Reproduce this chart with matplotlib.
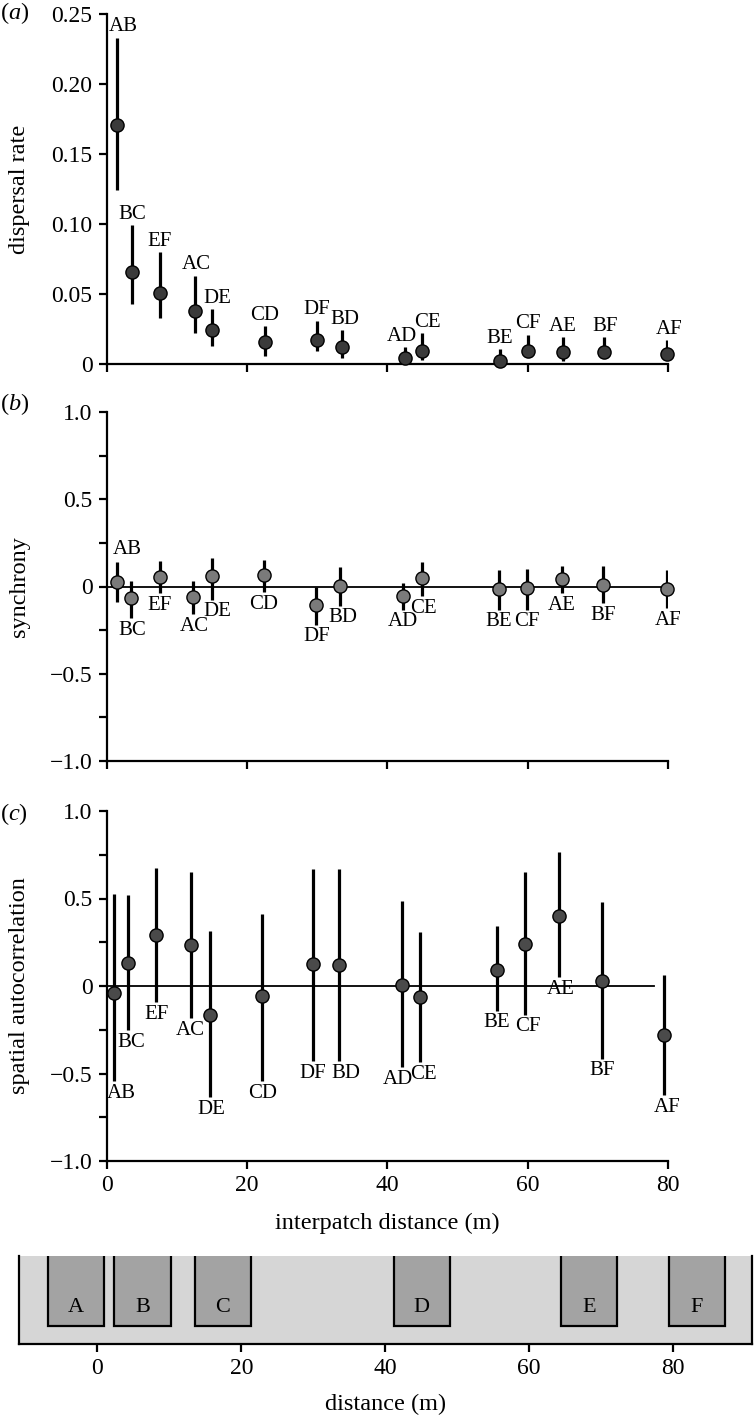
import matplotlib
matplotlib.use("Agg")
import matplotlib.pyplot as plt
import matplotlib.transforms as mtransforms
from matplotlib.patches import Rectangle
from matplotlib.ticker import FixedLocator

plt.rcParams['font.family'] = ['Liberation Serif', 'DejaVu Serif']
plt.rcParams['mathtext.fontset'] = 'custom'
plt.rcParams['mathtext.rm'] = 'Liberation Serif'
plt.rcParams['mathtext.it'] = 'Liberation Serif:italic'
plt.rcParams['axes.unicode_minus'] = True

# ---------------- data ----------------
pairs = ["AB", "BC", "EF", "AC", "DE", "CD", "DF", "BD",
         "AD", "CE", "BE", "CF", "AE", "BF", "AF"]

# panel (a): dispersal rate
dist_a = [1.45, 3.6, 7.6, 12.6, 15.0, 22.6, 30.0, 33.5,
          42.5, 44.9, 56.0, 60.0, 65.0, 70.9, 79.9]
disp = [0.171, 0.066, 0.051, 0.038, 0.024, 0.016, 0.017, 0.012,
        0.004, 0.0095, 0.0025, 0.0093, 0.0083, 0.0083, 0.0069]
disp_lo = [0.124, 0.043, 0.033, 0.022, 0.013, 0.006, 0.009, 0.004,
           0.0, 0.003, 0.0, 0.005, 0.002, 0.005, 0.003]
disp_hi = [0.233, 0.099, 0.080, 0.063, 0.039, 0.027, 0.031, 0.024,
           0.012, 0.022, 0.0105, 0.021, 0.019, 0.019, 0.017]

# panel (b): synchrony
dist_b = [1.45, 3.45, 7.6, 12.35, 15.0, 22.4, 29.9, 33.3,
          42.3, 44.9, 55.9, 59.9, 64.9, 70.8, 79.8]
sync = [0.025, -0.065, 0.053, -0.059, 0.059, 0.065, -0.107, 0.002,
        -0.052, 0.050, -0.017, -0.011, 0.044, 0.011, -0.017]
sync_lo = [-0.090, -0.180, -0.036, -0.160, -0.075, -0.032, -0.218, -0.109,
           -0.132, -0.056, -0.132, -0.132, -0.036, -0.094, -0.122]
sync_hi = [0.139, 0.034, 0.145, 0.034, 0.164, 0.149, 0.0, 0.113,
           0.021, 0.139, 0.092, 0.103, 0.120, 0.120, 0.092]

# panel (c): spatial autocorrelation
dist_c = [1.1, 3.1, 7.1, 12.0, 14.7, 22.2, 29.4, 33.1,
          42.1, 44.6, 55.6, 59.6, 64.5, 70.6, 79.5]
sac = [-0.040, 0.131, 0.290, 0.232, -0.164, -0.055, 0.126, 0.118,
       0.008, -0.065, 0.093, 0.240, 0.402, 0.027, -0.278]
sac_lo = [-0.545, -0.250, -0.093, -0.183, -0.636, -0.545, -0.430, -0.430,
          -0.465, -0.436, -0.141, -0.164, 0.050, -0.415, -0.625]
sac_hi = [0.526, 0.518, 0.674, 0.650, 0.312, 0.411, 0.669, 0.669,
          0.484, 0.307, 0.341, 0.650, 0.764, 0.478, 0.065]

# patch map
patch_names = ["A", "B", "C", "D", "E", "F"]
patch_left = [-6.8, 2.3, 13.5, 41.2, 64.5, 79.4]
patch_right = [0.9, 10.2, 21.3, 49.0, 72.2, 87.2]

# ---------------- layout / style ----------------
W, H = 754, 1417
fig = plt.figure(figsize=(W / 100, H / 100), dpi=100)

def fx(px):
    return px / W

def fy(py):
    return 1 - py / H

left_px, right_px = 106.5, 668
ax_a = fig.add_axes([fx(left_px), fy(364), fx(right_px - left_px), (364 - 14) / H])
ax_b = fig.add_axes([fx(left_px), fy(761), fx(right_px - left_px), (761 - 412) / H])
ax_c = fig.add_axes([fx(left_px), fy(1161), fx(right_px - left_px), (1161 - 811) / H])
ax_m = fig.add_axes([fx(19), fy(1344), fx(752 - 19), (1344 - 1256) / H])

TICK_FS = 17
LAB_FS = 17.5
PT_FS = 15
SPINE_W = 1.6

def style_axis(ax):
    for s in ["top", "right"]:
        ax.spines[s].set_visible(False)
    for s in ["left", "bottom"]:
        ax.spines[s].set_linewidth(SPINE_W)
    ax.tick_params(which="both", direction="out", length=6, width=SPINE_W,
                   labelsize=TICK_FS, pad=4)
    ax.set_xlim(0, 80)
    ax.xaxis.set_major_locator(FixedLocator([0, 20, 40, 60, 80]))

def draw_points(ax, x, y, lo, hi, face):
    ax.vlines(x, lo, hi, color="black", lw=2.3, zorder=3)
    ax.plot(x, y, "o", ms=9.5, mfc=face, mec="black", mew=1.0, zorder=4,
            clip_on=False)

def draw_labels(ax, x, lo, hi, where, dx, gap=2):
    for i, name in enumerate(pairs):
        if where[i] == "a":
            ax.annotate(name, (x[i], hi[i]), xytext=(dx[i], gap),
                        textcoords="offset points", ha="center", va="bottom",
                        fontsize=PT_FS, annotation_clip=False)
        else:
            ax.annotate(name, (x[i], lo[i]), xytext=(dx[i], -gap),
                        textcoords="offset points", ha="center", va="top",
                        fontsize=PT_FS, annotation_clip=False)

def fmt_ticks(vals):
    out = []
    for v in vals:
        if v == 0:
            out.append("0")
        else:
            out.append(("\u2212" if v < 0 else "") + f"{abs(v):.1f}")
    return out

# ---- panel (a)
style_axis(ax_a)
ax_a.set_ylim(0, 0.25)
ya = [0, 0.05, 0.10, 0.15, 0.20, 0.25]
ax_a.set_yticks(ya)
ax_a.set_yticklabels(["0", "0.05", "0.10", "0.15", "0.20", "0.25"])
ax_a.set_xticklabels([])
draw_points(ax_a, dist_a, disp, disp_lo, disp_hi, "#3a3a3a")
dx_a = [5, 0, 0, 1, 4, 0, 0, 2, -2, 4, 0, 0, 0, 1, 1]
draw_labels(ax_a, dist_a, disp_lo, disp_hi, ["a"] * 15, dx_a, gap=1)
ax_a.set_ylabel("dispersal rate", fontsize=LAB_FS)

# ---- panel (b)
style_axis(ax_b)
ax_b.set_ylim(-1, 1)
yb = [-1.0, -0.5, 0, 0.5, 1.0]
ax_b.set_yticks(yb)
ax_b.set_yticklabels(fmt_ticks(yb))
ax_b.yaxis.set_minor_locator(FixedLocator([-0.75, -0.25, 0.25, 0.75]))
ax_b.set_xticklabels([])
ax_b.plot([0, 80.5], [0, 0], color="black", lw=1.3, zorder=2, clip_on=False)
draw_points(ax_b, dist_b, sync, sync_lo, sync_hi, "#7a7a7a")
where_b = ["a"] + ["b"] * 14
dx_b = [8, 1, 0, 1, 4, 0, 0, 2, 0, 1, 0, 0, 0, 0, 1]
draw_labels(ax_b, dist_b, sync_lo, sync_hi, where_b, dx_b, gap=2)
ax_b.set_ylabel("synchrony", fontsize=LAB_FS)

# ---- panel (c)
style_axis(ax_c)
ax_c.set_ylim(-1, 1)
ax_c.set_yticks(yb)
ax_c.set_yticklabels(fmt_ticks(yb))
ax_c.yaxis.set_minor_locator(FixedLocator([-0.75, -0.25, 0.25, 0.75]))
ax_c.set_xticklabels(["0", "20", "40", "60", "80"])
ax_c.plot([0, 78], [0, 0], color="black", lw=1.3, zorder=2, clip_on=False)
draw_points(ax_c, dist_c, sac, sac_lo, sac_hi, "#4a4a4a")
dx_c = [5, 2, 0, 0, 1, 0, 0, 5, -3, 3, 0, 2, 1, 0, 2]
draw_labels(ax_c, dist_c, sac_lo, sac_hi, ["b"] * 15, dx_c, gap=2)
ax_c.set_ylabel("spatial autocorrelation", fontsize=LAB_FS)
ax_c.set_xlabel("interpatch distance (m)", fontsize=LAB_FS, labelpad=12)

# align y labels (right edge of rotated label)
for ax in (ax_a, ax_b, ax_c):
    ax.yaxis.set_label_coords((30 - left_px) / (right_px - left_px), 0.5)

# panel letters
for letter, top_px in (("a", 0), ("b", 391), ("c", 801)):
    fig.text(fx(0), fy(top_px), r"($\it{" + letter + r"}$)",
             fontsize=LAB_FS, ha="left", va="top")

# ---- patch map
ax_m.set_facecolor("#d6d6d6")
ax_m.set_xlim(-10.9, 91.0)
ax_m.set_ylim(0, 1)
ax_m.spines["top"].set_visible(False)
for s in ["left", "right", "bottom"]:
    ax_m.spines[s].set_linewidth(SPINE_W)
ax_m.set_yticks([])
ax_m.set_xticks([0, 20, 40, 60, 80])
ax_m.tick_params(direction="out", length=6, width=SPINE_W, labelsize=TICK_FS, pad=4)
trans = mtransforms.blended_transform_factory(ax_m.transData, ax_m.transAxes)
for name, l, r in zip(patch_names, patch_left, patch_right):
    rect = Rectangle((l, 0.205), r - l, 1.0, transform=trans,
                     facecolor="#a3a3a3", edgecolor="black", lw=1.6,
                     clip_on=True, zorder=2)
    ax_m.add_patch(rect)
    ax_m.text((l + r) / 2, 0.42, name, transform=trans, ha="center",
              va="center", fontsize=PT_FS + 1, zorder=3)
ax_m.set_xlabel("distance (m)", fontsize=LAB_FS, labelpad=11)

fig.savefig("out.png", dpi=100)
